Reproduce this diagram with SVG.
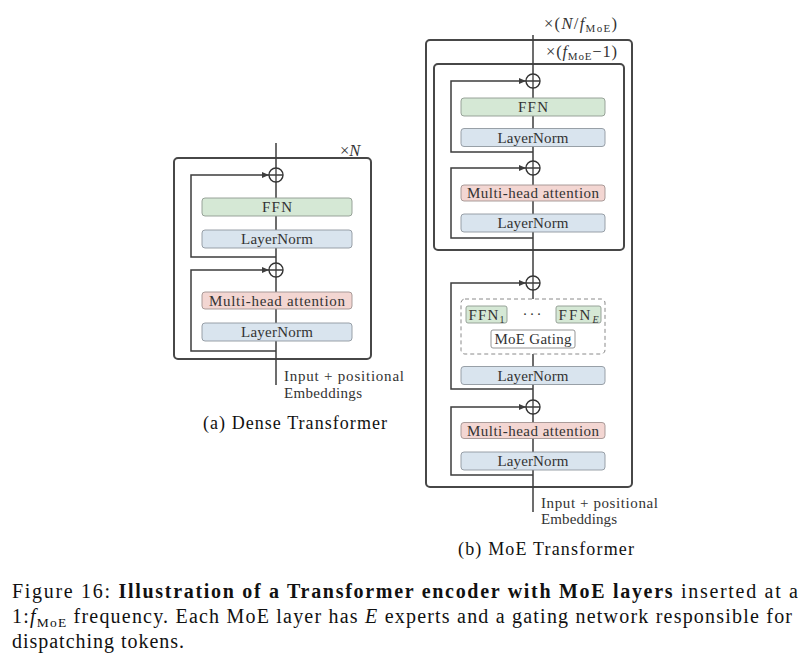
<svg xmlns="http://www.w3.org/2000/svg" width="810" height="665" viewBox="0 0 810 665">
<defs>
<style>
.frame{fill:none;stroke:#474747;stroke-width:2}
.ln{fill:none;stroke:#3d3d3d;stroke-width:1.5}
.ffn{fill:#d5e8d5;stroke:#8f9a90;stroke-width:0.9}
.norm{fill:#d9e4ee;stroke:#8e969e;stroke-width:0.9}
.att{fill:#f3d6d2;stroke:#a09290;stroke-width:0.9}
.gate{fill:#ffffff;stroke:#8a8a8a;stroke-width:0.9}
.dash{fill:none;stroke:#8a8a8a;stroke-width:1;stroke-dasharray:4,3}
.op{fill:#ffffff;stroke:#333333;stroke-width:1.4}
.t{font-family:"Liberation Serif","Times New Roman",serif;font-size:15px;fill:#333333;text-anchor:middle}
.tl{font-family:"Liberation Serif","Times New Roman",serif;font-size:15px;fill:#333333}
.m{font-family:"Liberation Serif","Times New Roman",serif;font-size:16.5px;fill:#333333}
.cap{font-family:"Liberation Serif","Times New Roman",serif;font-size:18px;fill:#111111;text-anchor:middle}
.fig{font-family:"Liberation Serif","Times New Roman",serif;font-size:20px;fill:#111111}
.i{font-style:italic}
.b{font-weight:bold}
</style>
<marker id="ah" markerUnits="userSpaceOnUse" markerWidth="8" markerHeight="8" refX="7" refY="4" orient="auto">
<path d="M0,1 L7,4 L0,7 Z" fill="#3d3d3d"/>
</marker>
</defs>

<!-- ================= (a) Dense Transformer ================= -->
<g id="dense-frame">
<rect class="frame" x="174" y="158" width="197" height="201" rx="4"/>
<text class="m" x="340" y="155.5">×<tspan class="i">N</tspan></text>
</g>

<g id="dense-connectors">
<line class="ln" x1="276" y1="143" x2="276" y2="385"/>
<path class="ln" d="M276,257 H191 V175 H269" marker-end="url(#ah)"/>
<path class="ln" d="M276,351 H191 V270 H269" marker-end="url(#ah)"/>
</g>

<g id="dense-add1">
<circle class="op" cx="276" cy="175" r="7"/>
<path class="ln" d="M269,175 H283 M276,168 V182" style="stroke-width:1.3"/>
</g>
<g id="dense-ffn">
<rect class="ffn" x="202" y="198" width="150" height="18" rx="3"/>
<text class="t" x="277" y="212" textLength="30">FFN</text>
</g>
<g id="dense-norm1">
<rect class="norm" x="202" y="230" width="150" height="18" rx="3"/>
<text class="t" x="277" y="244" textLength="72">LayerNorm</text>
</g>
<g id="dense-add2">
<circle class="op" cx="276" cy="270" r="7"/>
<path class="ln" d="M269,270 H283 M276,263 V277" style="stroke-width:1.3"/>
</g>
<g id="dense-attn">
<rect class="att" x="202" y="292" width="150" height="17" rx="3"/>
<text class="t" x="277" y="305.5" textLength="136">Multi-head attention</text>
</g>
<g id="dense-norm2">
<rect class="norm" x="202" y="323" width="150" height="18" rx="3"/>
<text class="t" x="277" y="337" textLength="72">LayerNorm</text>
</g>
<g id="dense-input">
<text class="tl" x="284" y="381" textLength="120">Input + positional</text>
<text class="tl" x="284" y="397.5" textLength="78">Embeddings</text>
</g>
<text class="cap" x="295" y="429" textLength="184">(a) Dense Transformer</text>

<!-- ================= (b) MoE Transformer ================= -->
<g id="moe-outer">
<rect class="frame" x="426" y="40" width="206" height="447" rx="4"/>
<text class="m" x="544" y="29" textLength="73">×(<tspan class="i">N</tspan>/<tspan class="i">f</tspan><tspan font-size="11" dy="3">MoE</tspan><tspan dy="-3">)</tspan></text>
</g>
<g id="moe-inner">
<rect class="frame" x="434" y="64" width="190" height="186" rx="4"/>
<text class="m" x="546" y="57" textLength="71">×(<tspan class="i">f</tspan><tspan font-size="11" dy="3">MoE</tspan><tspan dy="-3">−1)</tspan></text>
</g>

<g id="moe-connectors">
<line class="ln" x1="533" y1="35" x2="533" y2="299"/>
<line class="ln" x1="533" y1="354" x2="533" y2="512"/>
<path class="ln" d="M533,152 H451 V81 H526" marker-end="url(#ah)"/>
<path class="ln" d="M533,238 H451 V168 H526" marker-end="url(#ah)"/>
<path class="ln" d="M533,389 H451 V283 H526" marker-end="url(#ah)"/>
<path class="ln" d="M533,475 H451 V407 H526" marker-end="url(#ah)"/>
</g>

<g id="moe-add1">
<circle class="op" cx="533" cy="81" r="7"/>
<path class="ln" d="M526,81 H540 M533,74 V88" style="stroke-width:1.3"/>
</g>
<g id="moe-ffn">
<rect class="ffn" x="461" y="98" width="144" height="18" rx="3"/>
<text class="t" x="533" y="112" textLength="30">FFN</text>
</g>
<g id="moe-norm1">
<rect class="norm" x="461" y="128.5" width="144" height="18" rx="3"/>
<text class="t" x="533" y="142.5" textLength="71">LayerNorm</text>
</g>
<g id="moe-add2">
<circle class="op" cx="533" cy="168" r="7"/>
<path class="ln" d="M526,168 H540 M533,161 V175" style="stroke-width:1.3"/>
</g>
<g id="moe-attn1">
<rect class="att" x="461" y="185" width="144" height="16" rx="3"/>
<text class="t" x="533" y="198" textLength="132">Multi-head attention</text>
</g>
<g id="moe-norm2">
<rect class="norm" x="461" y="214" width="144" height="18" rx="3"/>
<text class="t" x="533" y="228" textLength="71">LayerNorm</text>
</g>

<g id="moe-add3">
<circle class="op" cx="533" cy="283" r="7"/>
<path class="ln" d="M526,283 H540 M533,276 V290" style="stroke-width:1.3"/>
</g>
<g id="moe-layer">
<rect class="dash" x="461" y="299" width="144" height="55" rx="4"/>
</g>
<g id="moe-ffn1">
<rect class="ffn" x="466" y="306" width="41" height="17" rx="2"/>
<text class="tl" x="468.5" y="319.5" textLength="36">FFN<tspan font-size="10" dy="3">1</tspan></text>
</g>
<g id="moe-dots">
<text class="t" x="533" y="319" letter-spacing="2">···</text>
</g>
<g id="moe-ffnE">
<rect class="ffn" x="556" y="306" width="45" height="17" rx="2"/>
<text class="tl" x="558.5" y="319.5" textLength="40">FFN<tspan class="i" font-size="10" dy="3">E</tspan></text>
</g>
<g id="moe-gating">
<rect class="gate" x="491" y="330" width="84" height="18" rx="2"/>
<text class="t" x="533" y="344" textLength="77">MoE Gating</text>
</g>
<g id="moe-norm3">
<rect class="norm" x="461" y="366.5" width="144" height="18" rx="3"/>
<text class="t" x="533" y="380.5" textLength="71">LayerNorm</text>
</g>
<g id="moe-add4">
<circle class="op" cx="533" cy="407" r="7"/>
<path class="ln" d="M526,407 H540 M533,400 V414" style="stroke-width:1.3"/>
</g>
<g id="moe-attn2">
<rect class="att" x="461" y="422.5" width="144" height="16" rx="3"/>
<text class="t" x="533" y="435.5" textLength="132">Multi-head attention</text>
</g>
<g id="moe-norm4">
<rect class="norm" x="461" y="452" width="144" height="18" rx="3"/>
<text class="t" x="533" y="466" textLength="71">LayerNorm</text>
</g>
<g id="moe-input">
<text class="tl" x="541" y="507.5" textLength="117">Input + positional</text>
<text class="tl" x="541" y="524" textLength="76">Embeddings</text>
</g>
<text class="cap" x="546" y="555" textLength="176">(b) MoE Transformer</text>

<!-- ================= Caption ================= -->
<g id="caption">
<text class="fig" x="12" y="598" textLength="786" lengthAdjust="spacing">Figure 16: <tspan class="b">Illustration of a Transformer encoder with MoE layers</tspan> inserted at a</text>
<text class="fig" x="12" y="623" textLength="780" lengthAdjust="spacing">1:<tspan class="i">f</tspan><tspan font-size="13.5" dy="4">MoE</tspan><tspan dy="-4"> frequency. Each MoE layer has </tspan><tspan class="i">E</tspan> experts and a gating network responsible for</text>
<text class="fig" x="12" y="648" textLength="172" lengthAdjust="spacing">dispatching tokens.</text>
</g>
</svg>
